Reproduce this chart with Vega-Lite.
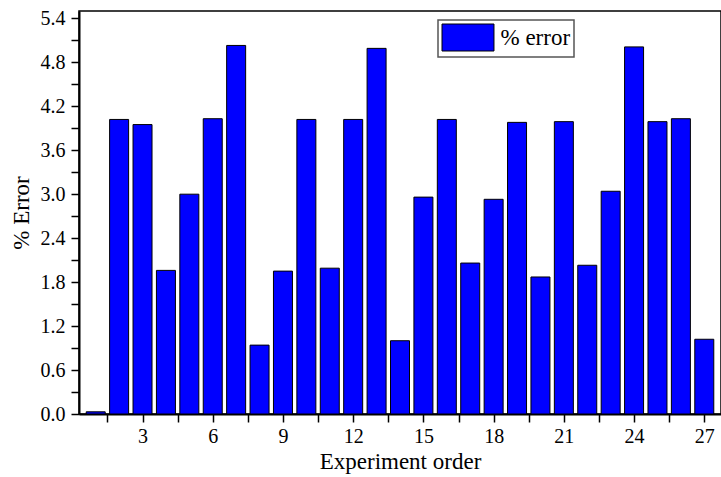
{
  "$schema": "https://vega.github.io/schema/vega-lite/v6.json",
  "width": 642,
  "height": 403,
  "autosize": {"type": "none"},
  "padding": {"left": 79, "top": 11, "right": 0, "bottom": 63},
  "background": "white",
  "config": {
    "font": "Liberation Serif",
    "view": {"stroke": "#000", "strokeWidth": 1.5},
    "legend": {"strokeWidth": 1.5},
    "axis": {
      "grid": false,
      "domainColor": "#000",
      "domainWidth": 2,
      "tickColor": "#000",
      "tickWidth": 1.5,
      "tickSize": 8,
      "labelColor": "#000",
      "labelFont": "Liberation Serif",
      "labelFontSize": 20,
      "titleColor": "#000",
      "titleFont": "Liberation Serif",
      "titleFontSize": 23,
      "titleFontWeight": "normal",
      "labelOverlap": false,
      "labelFlush": false
    }
  },
  "data": {
    "values": [
      {"order": 1, "error": 0.03},
      {"order": 2, "error": 4.02},
      {"order": 3, "error": 3.95},
      {"order": 4, "error": 1.96},
      {"order": 5, "error": 3.0},
      {"order": 6, "error": 4.03},
      {"order": 7, "error": 5.03},
      {"order": 8, "error": 0.94},
      {"order": 9, "error": 1.95},
      {"order": 10, "error": 4.02},
      {"order": 11, "error": 1.99},
      {"order": 12, "error": 4.02},
      {"order": 13, "error": 4.99},
      {"order": 14, "error": 1.0},
      {"order": 15, "error": 2.96},
      {"order": 16, "error": 4.02},
      {"order": 17, "error": 2.06},
      {"order": 18, "error": 2.93},
      {"order": 19, "error": 3.98},
      {"order": 20, "error": 1.87},
      {"order": 21, "error": 3.99},
      {"order": 22, "error": 2.03},
      {"order": 23, "error": 3.04},
      {"order": 24, "error": 5.01},
      {"order": 25, "error": 3.99},
      {"order": 26, "error": 4.03},
      {"order": 27, "error": 1.02}
    ]
  },
  "mark": {"type": "bar", "width": 19, "stroke": "#000", "strokeWidth": 1},
  "encoding": {
    "x": {
      "field": "order",
      "type": "quantitative",
      "scale": {"domain": [0.5, 27.5], "nice": false, "zero": false},
      "axis": {
        "values": [1.5, 3, 4.5, 6, 7.5, 9, 10.5, 12, 13.5, 15, 16.5, 18, 19.5, 21, 22.5, 24, 25.5, 27],
        "labelExpr": "datum.value % 3 == 0 ? datum.label : ''",
        "encode": {"ticks": {"update": {"y2": {"signal": "datum.value % 3 == 0 ? 8 : 5"}}}},
        "labelPadding": 4,
        "title": "Experiment order",
        "titlePadding": 4
      }
    },
    "y": {
      "field": "error",
      "type": "quantitative",
      "scale": {"domain": [0, 5.5], "nice": false, "zero": true},
      "axis": {
        "values": [0, 0.3, 0.6, 0.9, 1.2, 1.5, 1.8, 2.1, 2.4, 2.7, 3.0, 3.3, 3.6, 3.9, 4.2, 4.5, 4.8, 5.1, 5.4],
        "format": ".1f",
        "labelExpr": "round(datum.value * 10) % 6 == 0 ? datum.label : ''",
        "encode": {"ticks": {"update": {"x2": {"signal": "round(datum.value * 10) % 6 == 0 ? -8 : -5"}}}},
        "labelPadding": 6,
        "title": "% Error",
        "titlePadding": 7
      }
    },
    "color": {
      "datum": "% error",
      "scale": {"range": ["#0000ff"]},
      "legend": {
        "title": null,
        "orient": "none",
        "legendX": 359,
        "legendY": 9,
        "strokeColor": "#555",
        "fillColor": "white",
        "padding": 3.5,
        "symbolType": "M-1,-1H2.85V1H-1Z",
        "symbolSize": 729,
        "symbolStrokeColor": "#000",
        "symbolStrokeWidth": 1,
        "symbolOpacity": 1,
        "labelFont": "Liberation Serif",
        "labelFontSize": 23,
        "labelColor": "#000",
        "labelOffset": 31
      }
    }
  }
}
